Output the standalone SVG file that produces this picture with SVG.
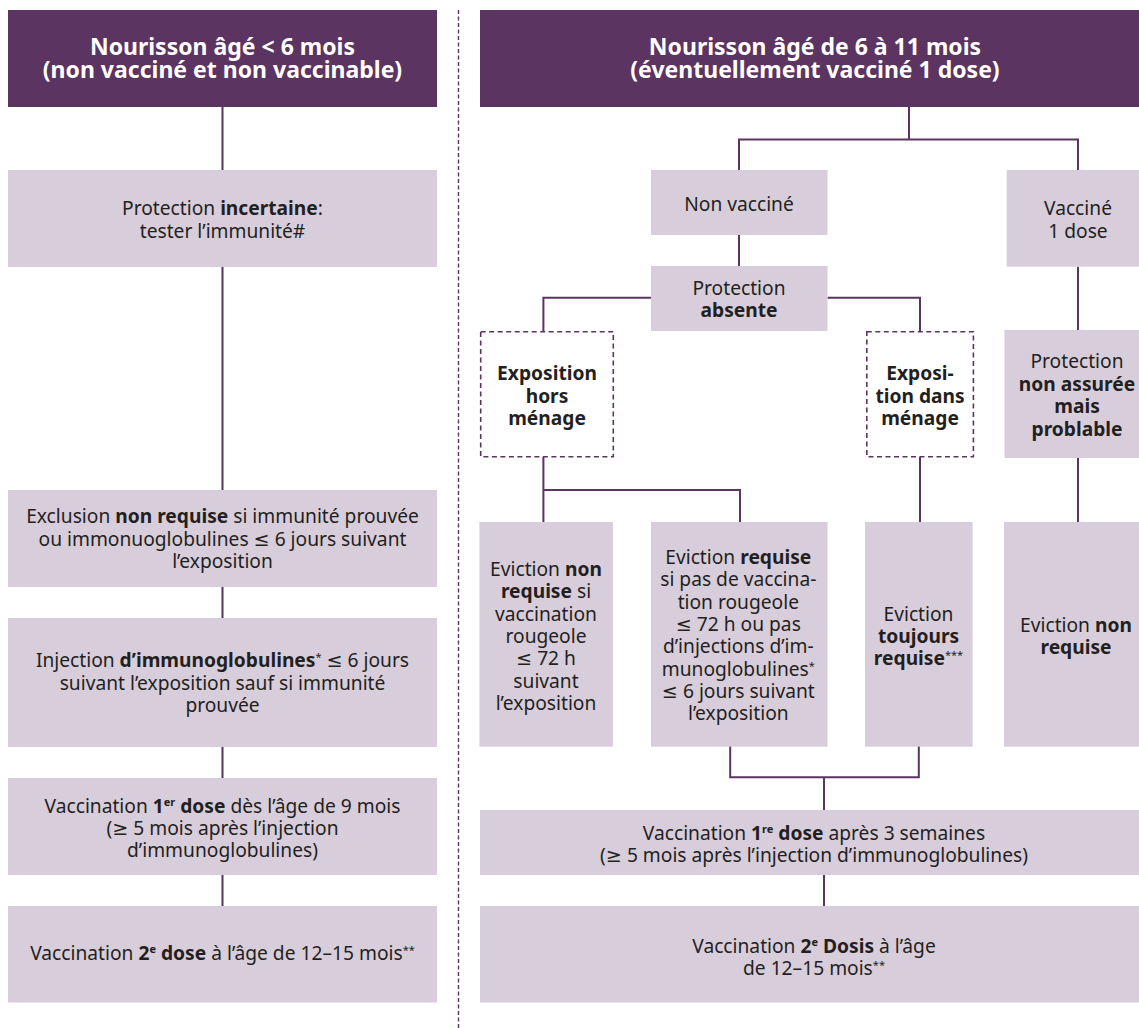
<svg xmlns="http://www.w3.org/2000/svg" width="1139" height="1028" viewBox="0 0 1139 1028">
<style>
.hdr{fill:#5b3461}
.box{fill:#d8cddb}
.dash{fill:#ffffff;stroke:#5b3461;stroke-width:1.6;stroke-dasharray:5 3.5}
.ht{font-family:"Noto Sans","DejaVu Sans",sans-serif;font-size:23px;font-weight:bold;fill:#ffffff;text-anchor:middle}
.t{font-family:"Noto Sans","DejaVu Sans",sans-serif;font-size:19.2px;fill:#231f20;text-anchor:middle}
.b{font-weight:bold}
.sup{font-size:11px}
.con{fill:none;stroke:#5b3461;stroke-width:2}
</style>
<rect width="1139" height="1028" fill="#ffffff"/>
<line x1="458.5" y1="10" x2="458.5" y2="1028" stroke="#5b3461" stroke-width="1.4" stroke-dasharray="4 2.5"/>
<g id="connectors">
<path class="con" d="M222.5,107V170M222.5,267V490M222.5,587V618M222.5,747V778M222.5,875V913"/>
<path class="con" d="M909,107V139.5M739,170V139.5H1078V170M739,235V266M651,297.7H543.4V331.7M827.5,297.7H920V331.7M1078,266.7V330"/>
<path class="con" d="M543.4,456.7V530M543.4,490H740V530M920,456.7V530M1078,458V530"/>
<path class="con" d="M730.2,739V777.3H918.8V739M824,777.3V810M824,875V914"/>
</g>
<g id="hdr-left">
<rect class="hdr" x="8" y="10" width="429" height="97"/>
<text class="ht" x="222.5" y="55">Nourisson âgé &lt; 6 mois</text>
<text class="ht" x="222.5" y="78">(non vacciné et non vaccinable)</text>
</g>
<g id="prot-incertaine">
<rect class="box" x="8" y="170" width="429" height="97"/>
<text class="t" x="222.5" y="215">Protection <tspan class="b">incertaine</tspan>:</text>
<text class="t" x="222.5" y="238">tester l’immunité#</text>
</g>
<g id="exclusion">
<rect class="box" x="8" y="490" width="429" height="97"/>
<text class="t" x="222.5" y="523.3">Exclusion <tspan class="b">non requise</tspan> si immunité prouvée</text>
<text class="t" x="222.5" y="545.7">ou immonuoglobulines ≤ 6 jours suivant</text>
<text class="t" x="222.5" y="568.1">l’exposition</text>
</g>
<g id="injection">
<rect class="box" x="8" y="618" width="429" height="129"/>
<text class="t" x="222.5" y="667.3">Injection <tspan class="b">d’immunoglobulines</tspan><tspan class="sup" dy="-6">*</tspan><tspan dy="6"> ≤ 6 jours</tspan></text>
<text class="t" x="222.5" y="689.7">suivant l’exposition sauf si immunité</text>
<text class="t" x="222.5" y="712.1">prouvée</text>
</g>
<g id="vacc1-left">
<rect class="box" x="8" y="778" width="429" height="97"/>
<text class="t" x="222.5" y="812.5">Vaccination <tspan class="b">1</tspan><tspan class="b sup" dy="-7">er</tspan><tspan class="b" dy="7"> dose</tspan> dès l’âge de 9 mois</text>
<text class="t" x="222.5" y="835">(≥ 5 mois après l’injection</text>
<text class="t" x="222.5" y="857.4">d’immunoglobulines)</text>
</g>
<g id="vacc2-left">
<rect class="box" x="8" y="906" width="429" height="96.5"/>
<text class="t" x="222.5" y="960">Vaccination <tspan class="b">2</tspan><tspan class="b sup" dy="-7">e</tspan><tspan class="b" dy="7"> dose</tspan> à l’âge de 12–15 mois<tspan class="sup" dy="-6">**</tspan></text>
</g>
<g id="hdr-right">
<rect class="hdr" x="480" y="10" width="670" height="97"/>
<text class="ht" x="815" y="55">Nourisson âgé de 6 à 11 mois</text>
<text class="ht" x="815" y="78">(éventuellement vacciné 1 dose)</text>
</g>
<g id="non-vaccine">
<rect class="box" x="651" y="170" width="176.5" height="65"/>
<text class="t" x="739" y="210.5">Non vacciné</text>
</g>
<g id="prot-absente">
<rect class="box" x="651" y="266" width="176.5" height="65"/>
<text class="t" x="739" y="295">Protection</text>
<text class="t b" x="739" y="317.4">absente</text>
</g>
<g id="expo-hors">
<rect class="dash" x="480.7" y="331.7" width="132.6" height="125"/>
<text class="t b" x="547" y="380">Exposition</text>
<text class="t b" x="547" y="402.5">hors</text>
<text class="t b" x="547" y="425">ménage</text>
</g>
<g id="expo-dans">
<rect class="dash" x="866.8" y="331.7" width="106.6" height="125"/>
<text class="t b" x="920" y="380">Exposi-</text>
<text class="t b" x="920" y="402.5">tion dans</text>
<text class="t b" x="920" y="425">ménage</text>
</g>
<g id="vaccine-1dose">
<rect class="box" x="1006.7" y="170" width="143.3" height="96.7"/>
<text class="t" x="1078" y="215">Vacciné</text>
<text class="t" x="1078" y="238.3">1 dose</text>
</g>
<g id="prot-non-assuree">
<rect class="box" x="1004.5" y="330" width="145.5" height="128"/>
<text class="t" x="1077" y="368.3">Protection</text>
<text class="t b" x="1077" y="390.7">non assurée</text>
<text class="t b" x="1077" y="413.3">mais</text>
<text class="t b" x="1077" y="436">problable</text>
</g>
<g id="eviction-a">
<rect class="box" x="479.4" y="522" width="133.5" height="224.7"/>
<text class="t" x="546" y="576">Eviction <tspan class="b">non</tspan></text>
<text class="t" x="546" y="598.3"><tspan class="b">requise</tspan> si</text>
<text class="t" x="546" y="620.6">vaccination</text>
<text class="t" x="546" y="642.9">rougeole</text>
<text class="t" x="546" y="665.2">≤ 72 h</text>
<text class="t" x="546" y="687.5">suivant</text>
<text class="t" x="546" y="709.8">l’exposition</text>
</g>
<g id="eviction-b">
<rect class="box" x="651" y="522" width="176.5" height="224.7"/>
<text class="t" x="738.3" y="564">Eviction <tspan class="b">requise</tspan></text>
<text class="t" x="738.3" y="586.3">si pas de vaccina-</text>
<text class="t" x="738.3" y="608.6">tion rougeole</text>
<text class="t" x="738.3" y="630.9">≤ 72 h ou pas</text>
<text class="t" x="738.3" y="653.2">d’injections d’im-</text>
<text class="t" x="738.3" y="675.5">munoglobulines<tspan class="sup" dy="-6">*</tspan></text>
<text class="t" x="738.3" y="697.8">≤ 6 jours suivant</text>
<text class="t" x="738.3" y="720.1">l’exposition</text>
</g>
<g id="eviction-c">
<rect class="box" x="865" y="522" width="107.6" height="224.7"/>
<text class="t" x="918.5" y="620.7">Eviction</text>
<text class="t b" x="918.5" y="643">toujours</text>
<text class="t" x="918.5" y="665.3"><tspan class="b">requise</tspan><tspan class="sup" dy="-6">***</tspan></text>
</g>
<g id="eviction-d">
<rect class="box" x="1004" y="522" width="146" height="224.7"/>
<text class="t" x="1076" y="631.7">Eviction <tspan class="b">non</tspan></text>
<text class="t b" x="1076" y="654">requise</text>
</g>
<g id="vacc1-right">
<rect class="box" x="480" y="810" width="670" height="65"/>
<text class="t" x="814" y="840">Vaccination <tspan class="b">1</tspan><tspan class="b sup" dy="-7">re</tspan><tspan class="b" dy="7"> dose</tspan> après 3 semaines</text>
<text class="t" x="814" y="862">(≥ 5 mois après l’injection d’immunoglobulines)</text>
</g>
<g id="vacc2-right">
<rect class="box" x="480" y="906" width="670" height="96.5"/>
<text class="t" x="814" y="952.5">Vaccination <tspan class="b">2</tspan><tspan class="b sup" dy="-7">e</tspan><tspan class="b" dy="7"> Dosis</tspan> à l’âge</text>
<text class="t" x="814" y="975">de 12–15 mois<tspan class="sup" dy="-6">**</tspan></text>
</g>
</svg>
